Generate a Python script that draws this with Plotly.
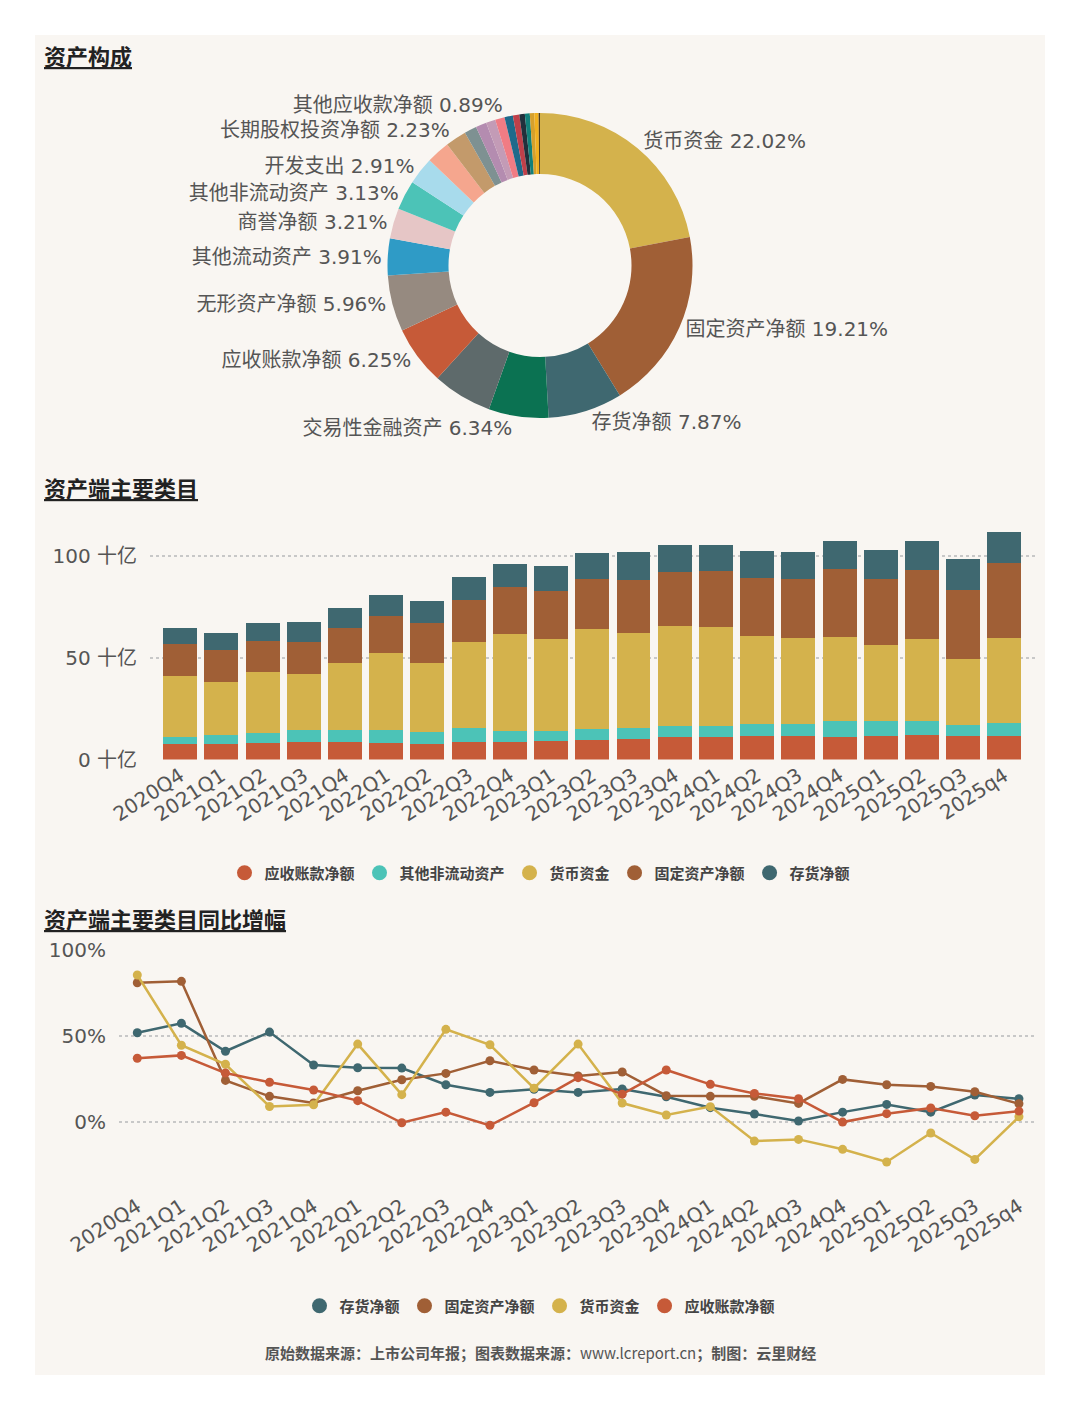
import plotly.graph_objects as go

W, H = 1080, 1410
OFF = 8  # page body margin of the browser

def fx(px):
    return (px - OFF) / W

def fy(py):
    return 1 - (py - OFF) / H

# ---------------- data ----------------
pie_labels = ["货币资金", "固定资产净额", "存货净额", "交易性金融资产", "在建工程净额",
              "应收账款净额", "无形资产净额", "其他流动资产", "商誉净额", "其他非流动资产",
              "开发支出", "长期待摊费用", "长期股权投资净额", "递延所得税资产", "预付款项",
              "应收票据", "使用权资产", "其他应收款净额", "合同资产", "投资性房地产",
              "其他非流动金融资产", "应收款项融资", "其他权益工具投资", "衍生金融资产"]
pie_values = [22.02, 19.21, 7.87, 6.34, 6.30, 6.25, 5.96, 3.91, 3.21, 3.13,
              2.91, 2.47, 2.23, 1.30, 1.15, 1.00, 1.00, 0.89, 0.68, 0.58,
              0.52, 0.48, 0.45, 0.14]
pie_shown = ["货币资金", "固定资产净额", "存货净额", "交易性金融资产", "应收账款净额",
             "无形资产净额", "其他流动资产", "商誉净额", "其他非流动资产", "开发支出",
             "长期股权投资净额", "其他应收款净额"]
pie_colors = ["#d4b24c", "#a05f36", "#3f6870", "#0b7252", "#5e6a6b",
              "#c65a38", "#968a80", "#2f9bc6", "#e6c6c6", "#4cc3b7",
              "#a8dbec", "#f5a68e", "#c39a6b", "#7e9192", "#b48cb0",
              "#c39bb6", "#f07c84", "#1e6a8b", "#c0404a", "#22303c",
              "#12807a", "#d6a02c", "#f2b01e", "#4a3a20"]

quarters = ["2020Q4", "2021Q1", "2021Q2", "2021Q3", "2021Q4", "2022Q1", "2022Q2",
            "2022Q3", "2022Q4", "2023Q1", "2023Q2", "2023Q3", "2023Q4", "2024Q1",
            "2024Q2", "2024Q3", "2024Q4", "2025Q1", "2025Q2", "2025Q3", "2025q4"]

# 十亿
receivables = [7.4, 7.4, 8.0, 8.4, 8.7, 8.0, 7.7, 8.7, 8.7, 9.0, 9.7, 10.2, 11.0, 11.0,
               11.5, 11.5, 11.0, 11.5, 12.2, 11.8, 11.8]
other_noncurrent = [3.8, 4.9, 5.1, 5.9, 5.6, 6.6, 5.9, 6.6, 5.3, 5.1, 5.2, 5.2, 5.4, 5.4,
                    6.1, 6.1, 8.0, 7.5, 6.8, 5.1, 6.3]
cash = [30.0, 26.1, 29.8, 27.6, 33.0, 37.8, 34.0, 42.7, 47.6, 45.2, 49.3, 46.7, 49.3, 49.0,
        43.3, 42.3, 41.3, 37.3, 40.3, 32.7, 41.8]
fixed_assets = [15.6, 15.6, 15.7, 16.2, 17.6, 18.4, 19.6, 20.5, 23.3, 23.8, 24.6, 26.4,
                26.7, 27.4, 28.4, 28.9, 33.3, 32.5, 34.0, 34.0, 36.8]
inventory = [7.9, 8.1, 8.4, 9.4, 9.6, 10.3, 11.1, 11.2, 11.5, 12.3, 12.7, 13.5, 13.3, 12.9,
             13.3, 13.3, 13.8, 14.5, 14.1, 15.1, 15.5]

# 同比增幅 %
inventory_yoy = [51.9, 57.4, 41.1, 52.3, 33.1, 31.5, 31.3, 21.6, 17.1, 18.9, 17.1, 19.1,
                 14.6, 8.2, 4.5, 0.4, 5.6, 10.1, 5.6, 15.6, 13.4]
fixed_yoy = [81.1, 81.9, 24.1, 14.8, 10.9, 18.1, 24.5, 28.2, 35.6, 30.2, 26.7, 29.0,
             15.2, 14.8, 14.8, 10.7, 24.7, 21.6, 20.6, 17.5, 10.5]
cash_yoy = [85.6, 44.6, 33.5, 8.9, 9.9, 45.3, 15.8, 53.9, 44.9, 19.6, 45.3, 10.9,
            3.9, 8.8, -11.3, -10.3, -16.1, -23.5, -6.6, -22.0, 2.9]
receivables_yoy = [37.0, 38.7, 28.4, 23.0, 18.5, 12.3, -0.6, 5.6, -2.1, 11.1, 25.7, 16.1,
                   30.2, 21.8, 16.5, 13.4, -0.2, 4.7, 8.0, 3.5, 6.2]

bar_y_ticks = [0, 50, 100]
bar_y_ticktext = ["0 十亿", "50 十亿", "100 十亿"]
line_y_ticks = [0, 50, 100]
line_y_ticktext = ["0%", "50%", "100%"]

C_RED = "#c65a38"
C_TEAL = "#4cc3b7"
C_YEL = "#d4b24c"
C_BRN = "#a05f36"
C_DARK = "#3f6870"

BASE_FONT = "DejaVu Sans, Noto Sans CJK SC, sans-serif"
CJK_FONT = "Noto Sans CJK SC, DejaVu Sans, sans-serif"

fig = go.Figure()

# ---------------- pie ----------------
pie_text = [f"{l} {v:.2f}%" if l in pie_shown else "" for l, v in zip(pie_labels, pie_values)]
fig.add_trace(go.Pie(
    labels=pie_labels, values=pie_values, text=pie_text, textinfo="text",
    textposition="outside", hole=0.6, sort=False, direction="clockwise", rotation=0,
    marker=dict(colors=pie_colors, line=dict(width=0)),
    outsidetextfont=dict(size=20, color="#555555", family=BASE_FONT),
    domain=dict(x=[fx(387.5), fx(692.5)], y=[fy(418), fy(113)]),
    showlegend=False, hoverinfo="label+percent", automargin=False,
))

# ---------------- stacked bars ----------------
bar_series = [("应收账款净额", receivables, C_RED),
              ("其他非流动资产", other_noncurrent, C_TEAL),
              ("货币资金", cash, C_YEL),
              ("固定资产净额", fixed_assets, C_BRN),
              ("存货净额", inventory, C_DARK)]
for name, vals, col in bar_series:
    fig.add_trace(go.Bar(x=quarters, y=vals, name=name, marker=dict(color=col, line=dict(width=0)),
                         xaxis="x", yaxis="y", showlegend=False))
for name, vals, col in bar_series:
    fig.add_trace(go.Scatter(x=[None], y=[None], mode="markers", name=name,
                             marker=dict(size=15, color=col), xaxis="x", yaxis="y",
                             legend="legend", showlegend=True))

# ---------------- lines ----------------
line_series = [("存货净额", inventory_yoy, C_DARK),
               ("固定资产净额", fixed_yoy, C_BRN),
               ("货币资金", cash_yoy, C_YEL),
               ("应收账款净额", receivables_yoy, C_RED)]
for name, vals, col in line_series:
    fig.add_trace(go.Scatter(x=quarters, y=vals, name=name, mode="lines+markers",
                             line=dict(color=col, width=2.5), marker=dict(size=9, color=col),
                             xaxis="x2", yaxis="y2", showlegend=False))
for name, vals, col in line_series:
    fig.add_trace(go.Scatter(x=[None], y=[None], mode="markers", name=name,
                             marker=dict(size=15, color=col), xaxis="x2", yaxis="y2",
                             legend="legend2", showlegend=True))

tickfont = dict(size=20, color="#555555", family=BASE_FONT)
yfont = dict(size=20, color="#555555", family=BASE_FONT)
legend_font = dict(size=15, color="#444444", family=CJK_FONT, weight="bold")

fig.update_layout(
    width=W, height=H, margin=dict(l=0, r=0, t=0, b=0, autoexpand=False),
    paper_bgcolor="white", plot_bgcolor="rgba(0,0,0,0)",
    font=dict(family=BASE_FONT, color="#555555"),
    barmode="stack", bargap=0.175,
    xaxis=dict(domain=[fx(150), fx(1035)], anchor="y", type="category",
               range=[-0.735, 20.745], tickangle=-33, tickfont=tickfont, automargin=False,
               showgrid=False, showline=False, ticks="", zeroline=False),
    yaxis=dict(domain=[fy(759.5), fy(526)], anchor="x", range=[0, 115], automargin=False,
               tickvals=bar_y_ticks, ticktext=bar_y_ticktext, tickfont=yfont,
               showgrid=True, gridcolor="#c8c8c8", griddash="dot", gridwidth=1.5,
               zeroline=False, showline=False, ticks="", ticklabelstandoff=12),
    xaxis2=dict(domain=[fx(119), fx(1037)], anchor="y2", type="category",
                range=[-0.415, 20.41], tickangle=-33, tickfont=tickfont, automargin=False,
                showgrid=False, showline=False, ticks="", zeroline=False),
    yaxis2=dict(domain=[fy(1190.3), fy(950.3)], anchor="x2", range=[-40, 100], automargin=False,
                tickvals=line_y_ticks, ticktext=line_y_ticktext, tickfont=yfont,
                showgrid=True, gridcolor="#c8c8c8", griddash="dot", gridwidth=1.5,
                zeroline=False, showline=False, ticks="", ticklabelstandoff=12),
    legend=dict(orientation="h", x=fx(540), xanchor="center", y=fy(873), yanchor="middle",
                font=legend_font, bgcolor="rgba(0,0,0,0)", itemwidth=30,
                itemsizing="trace", tracegroupgap=0, traceorder="normal"),
    legend2=dict(orientation="h", x=fx(540), xanchor="center", y=fy(1306), yanchor="middle",
                 font=legend_font, bgcolor="rgba(0,0,0,0)", itemwidth=30,
                 itemsizing="trace", tracegroupgap=0, traceorder="normal"),
    shapes=[dict(type="rect", xref="paper", yref="paper", x0=fx(35), x1=fx(1045),
                 y0=fy(1375), y1=fy(35), fillcolor="#f9f6f2", line=dict(width=0),
                 layer="below")],
)

title_font = dict(size=22, color="#222222", family=CJK_FONT)
for txt, ypx in [("资产构成", 55), ("资产端主要类目", 487), ("资产端主要类目同比增幅", 918)]:
    fig.add_annotation(text=f"<b><u>{txt}</u></b>", xref="paper", yref="paper",
                       x=fx(42), y=fy(ypx), xanchor="left", yanchor="middle",
                       showarrow=False, font=title_font)

fig.add_annotation(text="<b>原始数据来源：上市公司年报；图表数据来源：</b>www.lcreport.cn<b>；制图：云里财经</b>",
                   xref="paper", yref="paper", x=fx(540), y=fy(1352), xanchor="center",
                   yanchor="middle", showarrow=False,
                   font=dict(size=15, color="#555555", family=CJK_FONT))

fig.write_html("out.html")
